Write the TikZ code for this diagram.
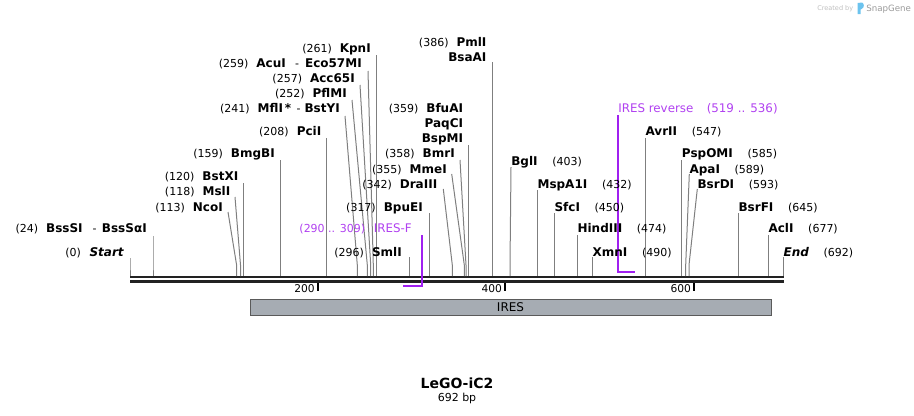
\documentclass[tikz,border=0pt]{standalone}
\usepackage{fontspec}
\setmainfont{DejaVu Sans}
\definecolor{seqc}{HTML}{222222}
\definecolor{conc}{HTML}{7F7F7F}
\definecolor{prim}{RGB}{160,32,240}
\definecolor{primt}{RGB}{176,64,240}
\definecolor{featf}{HTML}{A6ACB3}
\definecolor{featd}{HTML}{5A5A5A}
\definecolor{logob}{HTML}{6CC3EE}
\definecolor{logot}{HTML}{9A9A9A}
\newcommand{\ps}[1]{{\fontsize{8.25}{10}\selectfont #1}}
\newcommand{\en}[1]{{\fontsize{9}{11}\selectfont\bfseries #1}}
\newcommand{\pt}[1]{{\fontsize{8.9}{11}\selectfont #1}}
\newcommand{\sitecon}[4]{%
  \coordinate (t-#1) at (#2,#3);
  \coordinate (k-#1) at (#4,265);
  \coordinate (s-#1) at (#4,276);
  \draw[conn] (t-#1) -- (k-#1) -- (s-#1);}
\begin{document}
\begin{tikzpicture}[x=0.75pt,y=-0.75pt,
  labl/.style={inner sep=0,anchor=base east},
  labr/.style={inner sep=0,anchor=base west},
  conn/.style={draw=conc,line width=0.75pt},
  seqline/.style={draw=seqc,line width=2pt},
  tick/.style={draw=black,line width=1.4pt},
  primline/.style={draw=prim,line width=1.5pt},
  feat/.style={draw=featd,fill=featf,line width=0.6pt,inner sep=0,minimum width=390.75pt,minimum height=12pt}]
\useasboundingbox (0,0) rectangle (914,415);

% sequence
\coordinate (sq-a) at (130,277);
\coordinate (sq-b) at (783.5,277);
\coordinate (sq-c) at (130,281.3);
\coordinate (sq-d) at (783.5,281.3);
\draw[seqline] (sq-a) -- (sq-b);
\draw[seqline] (sq-c) -- (sq-d);

% ticks
\coordinate (tk1a) at (317.8,283); \coordinate (tk1b) at (317.8,291);
\coordinate (tk2a) at (505,283); \coordinate (tk2b) at (505,291);
\coordinate (tk3a) at (694,283); \coordinate (tk3b) at (694,291);
\draw[tick] (tk1a) -- (tk1b);
\draw[tick] (tk2a) -- (tk2b);
\draw[tick] (tk3a) -- (tk3b);
\node[inner sep=0,anchor=base east] (tl1) at (315,292.5) {\fontsize{8}{9}\selectfont 200};
\node[inner sep=0,anchor=base east] (tl2) at (502.2,292.5) {\fontsize{8}{9}\selectfont 400};
\node[inner sep=0,anchor=base east] (tl3) at (691.2,292.5) {\fontsize{8}{9}\selectfont 600};

% feature
\node[feat] (ires) at (510.5,307) {\fontsize{9}{10}\selectfont IRES};

% connectors
\sitecon{start}{130}{258}{130}
\sitecon{bsss}{153}{236}{153}
\sitecon{nco}{228}{212}{236.6}
\sitecon{msl}{235}{197}{240.5}
\sitecon{bstx}{243.3}{183}{243.3}
\sitecon{bmgb}{280.5}{160}{280.5}
\sitecon{pci}{326.5}{138}{326.5}
\sitecon{bsty}{345}{116}{357.3}
\sitecon{pflm}{352}{100}{367.3}
\sitecon{acc}{360}{85}{370.7}
\sitecon{eco}{368}{71}{373.3}
\sitecon{kpn}{376.3}{55}{376.3}
\sitecon{pml}{492.5}{62}{492.5}
\sitecon{bsp}{468.3}{145}{468.3}
\sitecon{bmr}{460}{160}{466}
\sitecon{mme}{451.7}{174}{464.3}
\sitecon{dra}{443.3}{189}{452.3}
\sitecon{bpu}{429.3}{213}{429.3}
\sitecon{sml}{409.3}{257}{409.3}
\sitecon{bgl}{511}{167}{510}
\sitecon{msp}{537.3}{190}{537.3}
\sitecon{sfc}{554.3}{213}{554.3}
\sitecon{hind}{577.3}{235}{577.3}
\sitecon{xmn}{592.3}{257}{592.3}
\sitecon{avr}{645.3}{138}{645.3}
\sitecon{psp}{681.7}{160}{681.7}
\sitecon{apa}{689.3}{174}{685.7}
\sitecon{bsrd}{697.3}{189}{689}
\sitecon{bsrf}{738.3}{213}{738.3}
\sitecon{acl}{768.3}{235}{768.3}
\sitecon{end}{783.3}{257}{783.3}

% primers
\coordinate (pf-top) at (421.5,235);
\coordinate (pf-corner) at (421.5,285.5);
\coordinate (pf-end) at (403,285.5);
\draw[primline] (pf-top) -- (pf-corner) -- (pf-end);
\coordinate (pr-top) at (618.3,115);
\coordinate (pr-corner) at (618.3,271.5);
\coordinate (pr-end) at (635,271.5);
\draw[primline] (pr-top) -- (pr-corner) -- (pr-end);

% left labels
\node[labl] (n-start) at (124,256.3) {\ps{(0)}\hspace{6.5pt}\en{\itshape Start}};
\node[labl] (n-bsss) at (147,232.3) {\ps{(24)}\hspace{6pt}\en{BssSI}\hspace{7.5pt}\ps{-}\hspace{4pt}\en{BssSαI}};
\node[labl] (n-nco) at (223,211.3) {\ps{(113)}\hspace{6pt}\en{NcoI}};
\node[labl] (n-msl) at (230.5,195.3) {\ps{(118)}\hspace{6pt}\en{MslI}};
\node[labl] (n-bstx) at (238.5,180.3) {\ps{(120)}\hspace{6pt}\en{BstXI}};
\node[labl] (n-bmgb) at (275,157.3) {\ps{(159)}\hspace{6pt}\en{BmgBI}};
\node[labl] (n-pci) at (321.5,135.3) {\ps{(208)}\hspace{6pt}\en{PciI}};
\node[labl] (n-bsty) at (340,112.3) {\ps{(241)}\hspace{6pt}\en{MflI\,*}\hspace{4pt}\ps{-}\hspace{3pt}\en{BstYI}};
\node[labl] (n-pflm) at (347,97.3) {\ps{(252)}\hspace{6pt}\en{PflMI}};
\node[labl] (n-acc) at (355,82.3) {\ps{(257)}\hspace{6pt}\en{Acc65I}};
\node[labl] (n-eco) at (362,67.3) {\ps{(259)}\hspace{6pt}\en{AcuI}\hspace{7pt}\ps{-}\hspace{4.5pt}\en{Eco57MI}};
\node[labl] (n-kpn) at (371,52.3) {\ps{(261)}\hspace{6pt}\en{KpnI}};

% middle labels
\node[labl] (n-pml) at (486.7,46.3) {\ps{(386)}\hspace{6pt}\en{PmlI}};
\node[labl] (n-bsaa) at (486.7,61.3) {\en{BsaAI}};
\node[labl] (n-bfua) at (463.3,112.3) {\ps{(359)}\hspace{6pt}\en{BfuAI}};
\node[labl] (n-paqc) at (463.3,127.3) {\en{PaqCI}};
\node[labl] (n-bsp) at (463.3,142.3) {\en{BspMI}};
\node[labl] (n-bmr) at (455,157.3) {\ps{(358)}\hspace{6pt}\en{BmrI}};
\node[labl] (n-mme) at (447,173.3) {\ps{(355)}\hspace{6pt}\en{MmeI}};
\node[labl] (n-dra) at (437.5,188.3) {\ps{(342)}\hspace{6pt}\en{DraIII}};
\node[labl] (n-bpu) at (423,211.3) {\ps{(317)}\hspace{6pt}\en{BpuEI}};
\node[labl,text=primt] (n-iresf) at (412,232.3) {\ps{(290 .. 309)}\hspace{6.5pt}\pt{IRES-F}};
\node[labl] (n-sml) at (402,256.3) {\ps{(296)}\hspace{6pt}\en{SmlI}};

% right labels
\node[labr] (n-bgl) at (511,165.3) {\en{BglI}\hspace{11pt}\ps{(403)}};
\node[labr] (n-msp) at (537.3,188.3) {\en{MspA1I}\hspace{11pt}\ps{(432)}};
\node[labr] (n-sfc) at (554.3,211.3) {\en{SfcI}\hspace{11pt}\ps{(450)}};
\node[labr] (n-hind) at (577.3,232.3) {\en{HindIII}\hspace{11pt}\ps{(474)}};
\node[labr] (n-xmn) at (592.3,256.3) {\en{XmnI}\hspace{11pt}\ps{(490)}};
\node[labr] (n-avr) at (645.3,135.3) {\en{AvrII}\hspace{11pt}\ps{(547)}};
\node[labr] (n-psp) at (681.7,157.3) {\en{PspOMI}\hspace{11pt}\ps{(585)}};
\node[labr] (n-apa) at (689.3,173.3) {\en{ApaI}\hspace{11pt}\ps{(589)}};
\node[labr] (n-bsrd) at (697.3,188.3) {\en{BsrDI}\hspace{11pt}\ps{(593)}};
\node[labr] (n-bsrf) at (738.3,211.3) {\en{BsrFI}\hspace{11pt}\ps{(645)}};
\node[labr] (n-acl) at (768.3,232.3) {\en{AclI}\hspace{11pt}\ps{(677)}};
\node[labr] (n-end) at (783.3,256.3) {\en{\itshape End}\hspace{11pt}\ps{(692)}};
\node[labr,text=primt] (n-iresr) at (618,112.3) {\pt{IRES reverse}\hspace{10pt}\pt{(519 .. 536)}};

% title
\node[inner sep=0] (title) at (457,383) {\fontsize{10.5}{12}\selectfont\bfseries LeGO-iC2};
\node[inner sep=0] (len) at (457,398.5) {\ps{692 bp}};

% watermark
\node[inner sep=0,anchor=base east,text=black!25] (wm1) at (853.5,10.5) {\fontsize{4.9}{6}\selectfont Created by};
\fill[logob] (857.5,3) -- (862,2.5) .. controls (864.5,3.5) and (864.5,8) .. (861.5,9) -- (860.5,9.5) -- (860.5,14) -- (857.5,14) -- cycle;
\node[inner sep=0,anchor=base west,text=logot] (wm2) at (866,11) {\fontsize{6.5}{8}\selectfont SnapGene};
\end{tikzpicture}
\end{document}
